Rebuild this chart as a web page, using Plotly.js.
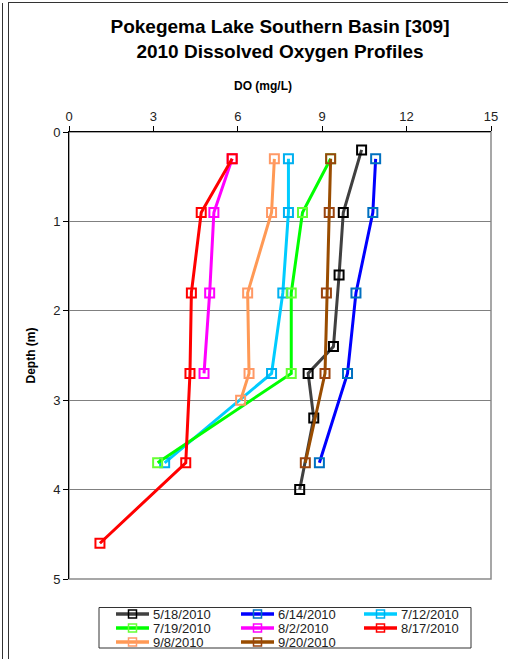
<!DOCTYPE html>
<html>
<head>
<meta charset="utf-8">
<script src="https://cdn.plot.ly/plotly-3.0.1.min.js"></script>
<style>
  html, body { margin: 0; padding: 0; background: #fff; }
  #wrap { position: relative; width: 508px; height: 659px; overflow: hidden; }
  #chart { position: absolute; left: 0; top: 0; width: 508px; height: 659px; }
  .frame1 { position: absolute; left: 2px; top: 3px; width: 0; height: 660px; border-left: 1px solid #333; }
  .frame2 { position: absolute; left: 8px; top: 2px; width: 520px; height: 660px; border-left: 1px solid #333; border-top: 1px solid #333; }
</style>
</head>
<body>
<div id="wrap">
  <div id="chart"></div>
  <div class="frame1"></div>
  <div class="frame2"></div>
</div>
<script>
// ---- data (DO in mg/L, depth in m) ----
const seriesNames = ["5/18/2010", "6/14/2010", "7/12/2010", "7/19/2010", "8/2/2010", "8/17/2010", "9/8/2010", "9/20/2010"];

const depth_0518 = [0.2, 0.9, 1.6, 2.4, 2.7, 3.2, 4.0];
const do_0518    = [10.4, 9.75, 9.6, 9.4, 8.5, 8.7, 8.2];

const depth_0614 = [0.3, 0.9, 1.8, 2.7, 3.7];
const do_0614    = [10.9, 10.8, 10.2, 9.9, 8.9];

const depth_0712 = [0.3, 0.9, 1.8, 2.7, 3.7];
const do_0712    = [7.8, 7.8, 7.6, 7.2, 3.4];

const depth_0719 = [0.3, 0.9, 1.8, 2.7, 3.7];
const do_0719    = [9.3, 8.3, 7.9, 7.9, 3.15];

const depth_0802 = [0.3, 0.9, 1.8, 2.7];
const do_0802    = [5.8, 5.15, 5.0, 4.8];

const depth_0817 = [0.3, 0.9, 1.8, 2.7, 3.7, 4.6];
const do_0817    = [5.8, 4.7, 4.35, 4.3, 4.15, 1.1];

const depth_0908 = [0.3, 0.9, 1.8, 2.7, 3.0];
const do_0908    = [7.3, 7.2, 6.35, 6.4, 6.1];

const depth_0920 = [0.3, 0.9, 1.8, 2.7, 3.7];
const do_0920    = [9.3, 9.25, 9.15, 9.1, 8.4];

const xTicks = [0, 3, 6, 9, 12, 15];
const yTicks = [0, 1, 2, 3, 4, 5];

// ---- styles ----
const lineColors   = ["#404040", "#0000FF", "#00CCFF", "#00FF00", "#FF00FF", "#FF0000", "#FF9955", "#994C00"];
const markerColors = ["#000000", "#0070C0", "#00B0F0", "#66FF33", "#FF00FF", "#FF0000", "#FF9966", "#99440F"];

const depths = [depth_0518, depth_0614, depth_0712, depth_0719, depth_0802, depth_0817, depth_0908, depth_0920];
const dos    = [do_0518, do_0614, do_0712, do_0719, do_0802, do_0817, do_0908, do_0920];

const FONT = "Arial, 'Liberation Sans', sans-serif";

const W = 508, H = 659;
const M = { l: 69, r: 17, t: 132, b: 80 };
const PW = W - M.l - M.r, PH = H - M.t - M.b;
// page pixel -> paper fraction (for layout decoration only)
const px2x = px => (px - M.l) / PW;
const py2y = py => (H - M.b - py) / PH;

const traces = seriesNames.map((name, i) => ({
  type: "scatter",
  mode: "lines+markers",
  name: name,
  x: dos[i],
  y: depths[i],
  line: { color: lineColors[i], width: 3 },
  marker: { symbol: "square-open", size: 9, color: markerColors[i], line: { color: markerColors[i], width: 2 } },
  cliponaxis: false
}));

// ---- custom legend (3 columns, compact rows) ----
const legCols = [116, 241, 364];
const legRows = [614, 628, 642];
const legLineLen = 33;
const shapes = [
  { type: "rect", xref: "paper", yref: "paper", x0: 0, x1: 1, y0: 0, y1: 1,
    line: { color: "#8a8a8a", width: 1.5 }, layer: "below" },
  { type: "rect", xref: "paper", yref: "paper", x0: px2x(99), x1: px2x(471), y0: py2y(648), y1: py2y(607.5),
    line: { color: "#333", width: 1 }, fillcolor: "#ffffff", layer: "above" }
];
const annotations = [
  { xref: "paper", yref: "paper", x: px2x(263), y: py2y(86), xanchor: "center", yanchor: "middle",
    showarrow: false, text: "<b>DO (mg/L)</b>", font: { family: FONT, size: 12, color: "#000" } }
];
seriesNames.forEach((name, i) => {
  const cx = legCols[i % 3], cy = legRows[Math.floor(i / 3)];
  shapes.push({ type: "line", xref: "paper", yref: "paper",
    x0: px2x(cx), x1: px2x(cx + legLineLen), y0: py2y(cy), y1: py2y(cy),
    line: { color: lineColors[i], width: 3.5 }, layer: "above" });
  shapes.push({ type: "rect", xref: "paper", yref: "paper",
    xsizemode: "pixel", ysizemode: "pixel",
    xanchor: px2x(cx + legLineLen / 2), yanchor: py2y(cy),
    x0: -4, x1: 4, y0: -4, y1: 4,
    line: { color: markerColors[i], width: 1.5 }, fillcolor: "rgba(255,255,255,0)", layer: "above" });
  annotations.push({ xref: "paper", yref: "paper", x: px2x(cx + legLineLen + 2), y: py2y(cy),
    xanchor: "left", yanchor: "middle", showarrow: false, text: name,
    font: { family: FONT, size: 13, color: "#222" } });
});

const layout = {
  width: W,
  height: H,
  margin: { l: M.l, r: M.r, t: M.t, b: M.b, pad: 0 },
  paper_bgcolor: "#ffffff",
  plot_bgcolor: "#ffffff",
  font: { family: FONT, size: 13, color: "#222" },
  showlegend: false,
  title: {
    text: "<b>Pokegema Lake Southern Basin [309]<br>2010 Dissolved Oxygen Profiles</b>",
    font: { family: FONT, size: 19, color: "#000" },
    x: 0.5, xref: "paper",
    y: 1 - 33 / H, yref: "container", yanchor: "top"
  },
  xaxis: {
    side: "top",
    range: [0, 15],
    tickmode: "array",
    tickvals: xTicks,
    ticktext: xTicks.map(String),
    ticks: "outside",
    ticklen: 5,
    tickcolor: "#000",
    showline: true,
    linecolor: "#000",
    linewidth: 1,
    showgrid: false,
    zeroline: false,
    tickfont: { family: FONT, size: 13, color: "#222" },
    fixedrange: true
  },
  yaxis: {
    range: [5, 0],
    tickmode: "array",
    tickvals: yTicks,
    ticktext: yTicks.map(String),
    ticks: "outside",
    ticklen: 5,
    tickcolor: "#000",
    showline: true,
    linecolor: "#000",
    linewidth: 1,
    showgrid: true,
    gridcolor: "#808080",
    gridwidth: 1,
    zeroline: false,
    tickfont: { family: FONT, size: 13, color: "#222" },
    title: { text: "<b>Depth (m)</b>", font: { family: FONT, size: 12, color: "#000" }, standoff: 14 },
    fixedrange: true
  },
  shapes: shapes,
  annotations: annotations
};

Plotly.newPlot("chart", traces, layout, { displayModeBar: false, staticPlot: true });
</script>
</body>
</html>
